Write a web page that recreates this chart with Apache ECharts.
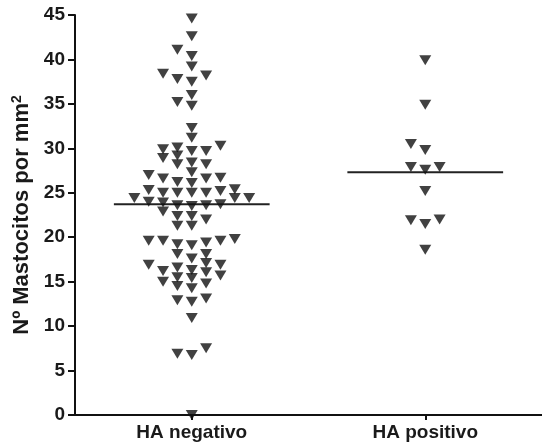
<!DOCTYPE html>
<html>
<head>
<meta charset="utf-8">
<script src="https://cdn.jsdelivr.net/npm/echarts@6/dist/echarts.min.js"></script>
<style>html,body{margin:0;padding:0;background:#fff}#c{width:542px;height:446px}</style>
</head>
<body>
<div id="c"></div>
<script>
const categories = ['HA negativo', 'HA positivo'];
const haNegativo = [
  44.6, 42.6, 41.1, 40.4, 39.2, 38.4, 38.2, 37.8, 37.5, 36.0, 35.2, 34.8, 32.3, 31.2,
  30.1, 29.7, 29.7, 29.9, 30.3,
  29.2, 28.4, 28.2, 28.2, 28.9,
  27.0, 26.6, 26.2, 26.1, 26.6, 26.7, 27.3,
  25.3, 25.0, 25.0, 25.0, 25.0, 25.2, 25.4,
  24.4, 24.4, 24.4,
  23.9, 23.6, 23.5, 23.6, 23.7, 24.0,
  22.4, 22.0, 22.9, 22.4,
  21.3, 21.3,
  19.6, 19.6, 19.2, 19.1, 19.4, 19.6, 19.8,
  18.1, 17.6, 18.1,
  16.9, 16.6, 16.2, 16.05, 16.3, 16.9, 17.1,
  15.7, 15.4, 14.8, 14.25, 14.5, 15.0, 15.5,
  12.9, 12.75, 13.1,
  10.9,
  6.9, 6.75, 7.5,
  0
];
const haPositivo = [39.9, 34.9, 30.5, 29.8, 27.9, 27.6, 27.9, 25.2, 21.9, 21.5, 22.0, 18.6];
const groups = [haNegativo, haPositivo];
const yMin = 0, yMax = 45, yInterval = 5;

// beeswarm layout computed from the values (column offsets)
function swarm(values, thr) {
  const sorted = values.slice().sort((a, b) => a - b);
  const cols = {};
  const out = [];
  for (const v of sorted) {
    for (let i = 0; i < 40; i++) {
      const k = i === 0 ? 0 : (i % 2 === 1 ? -Math.ceil(i / 2) : Math.ceil(i / 2));
      const col = cols[k] || (cols[k] = []);
      if (col.every(p => Math.abs(p - v) >= thr)) { col.push(v); out.push([k, v]); break; }
    }
  }
  return out;
}
const step = 0.1229;
const halfLine = 0.667;
const mean = a => a.reduce((s, v) => s + v, 0) / a.length;
const FONT = 'Liberation Sans, Arial, sans-serif';

const series = [];
groups.forEach((g, gi) => {
  const cx = gi * 2 + 1;
  series.push({
    type: 'scatter',
    symbol: 'triangle',
    symbolRotate: 180,
    symbolSize: [12, 10],
    itemStyle: { color: '#111' },
    data: swarm(g, 0.9).map(([k, v]) => [cx + k * step, v]),
    z: 3
  });
  const m = mean(g);
  series.push({
    type: 'line',
    symbol: 'none',
    lineStyle: { color: '#222', width: 2 },
    data: [[cx - halfLine, m], [cx + halfLine, m]],
    z: 2
  });
});

const chart = echarts.init(document.getElementById('c'));
chart.setOption({
  animation: false,
  grid: { left: 75, top: 15, width: 472, height: 400, containLabel: false },
  xAxis: {
    type: 'value', min: 0, max: 4,
    splitLine: { show: false },
    axisLine: { lineStyle: { color: '#111', width: 2 } },
    axisTick: { show: true, customValues: [1, 3], length: 5, lineStyle: { color: '#111', width: 2 } },
    axisLabel: {
      customValues: [1, 3], margin: 8,
      formatter: v => categories[Math.round((v - 1) / 2)],
      color: '#1a1a1a', fontFamily: FONT, fontWeight: 'bold', fontSize: 19
    }
  },
  yAxis: {
    type: 'value', min: yMin, max: yMax, interval: yInterval,
    splitLine: { show: false },
    axisLine: { show: true, lineStyle: { color: '#111', width: 2 } },
    axisTick: { show: true, length: 7, lineStyle: { color: '#111', width: 2 } },
    axisLabel: { margin: 10, color: '#1a1a1a', fontFamily: FONT, fontWeight: 'bold', fontSize: 19 },
    name: 'Nº Mastocitos por mm{sup|2}',
    nameLocation: 'middle',
    nameGap: 38,
    nameRotate: 90,
    nameTextStyle: {
      color: '#1a1a1a', fontFamily: FONT, fontWeight: 'bold', fontSize: 22,
      rich: { sup: { fontSize: 14, fontWeight: 'bold', color: '#1a1a1a', verticalAlign: 'top', padding: [0, 0, 10, 0], fontFamily: FONT } }
    }
  },
  series
});
</script>
</body>
</html>
